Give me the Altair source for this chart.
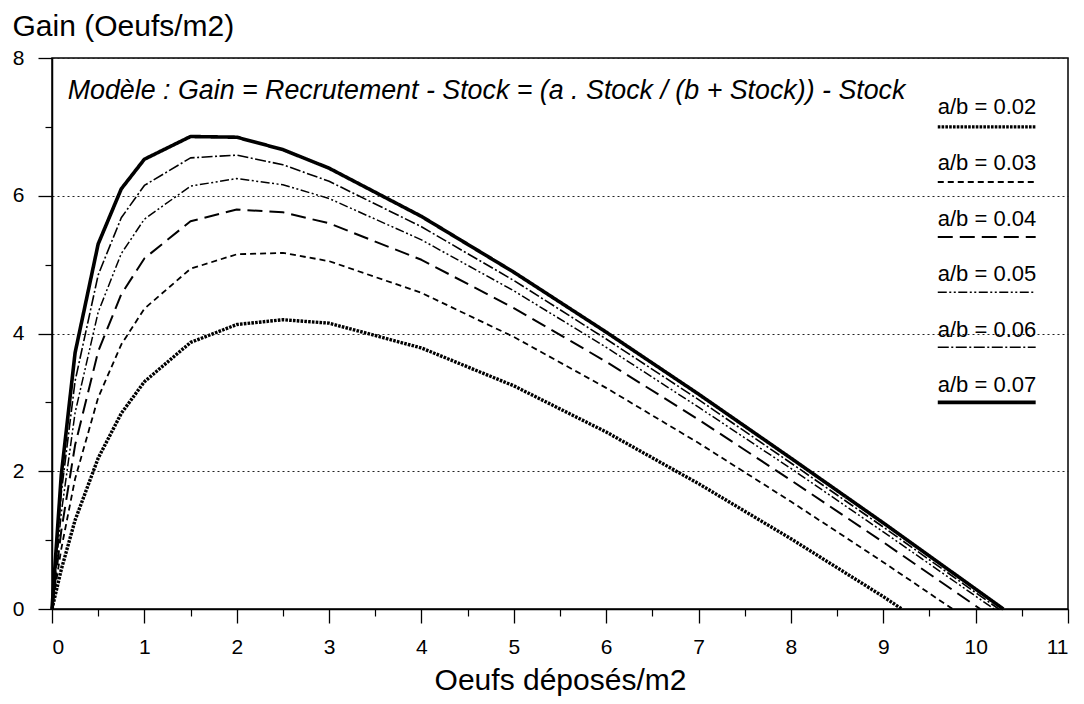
import altair as alt
import pandas as pd

# ---------------- data ----------------
series = ["a/b = 0.02", "a/b = 0.03", "a/b = 0.04", "a/b = 0.05", "a/b = 0.06", "a/b = 0.07"]

stock = [0, 0.1, 0.25, 0.5, 0.75, 1, 1.5, 2, 2.5, 3, 4, 5, 6, 7, 8, 9]

gain_002 = [0, 0.57, 1.29, 2.19, 2.84, 3.30, 3.87, 4.13, 4.20, 4.15, 3.79, 3.24, 2.57, 1.82, 1.02, 0.18]
gain_003 = [0, 0.87, 1.89, 3.07, 3.84, 4.36, 4.94, 5.15, 5.17, 5.05, 4.59, 3.95, 3.21, 2.41, 1.56, 0.68]
gain_004 = [0, 1.13, 2.38, 3.74, 4.57, 5.09, 5.63, 5.80, 5.76, 5.60, 5.07, 4.37, 3.59, 2.75, 1.87, 0.97]
gain_005 = [0, 1.39, 2.85, 4.31, 5.16, 5.66, 6.14, 6.25, 6.16, 5.96, 5.36, 4.62, 3.80, 2.93, 2.04, 1.12]
gain_006 = [0, 1.68, 3.31, 4.85, 5.68, 6.15, 6.55, 6.59, 6.45, 6.21, 5.55, 4.77, 3.92, 3.04, 2.12, 1.19]
gain_007 = [0, 1.94, 3.72, 5.30, 6.10, 6.53, 6.86, 6.85, 6.67, 6.40, 5.70, 4.89, 4.02, 3.12, 2.19, 1.25]

# stock where each curve returns to zero gain
zero_stock = [9.20, 9.75, 10.05, 10.20, 10.25, 10.30]

x_ticks = list(range(0, 12))
x_minor = [0.5, 1.5, 2.5, 3.5, 4.5, 5.5, 6.5, 7.5, 8.5, 9.5, 10.5]
y_ticks = [0, 2, 4, 6, 8]
y_minor = [1, 3, 5, 7]

model_text = "Modèle : Gain = Recrutement - Stock = (a . Stock / (b + Stock)) - Stock"
x_title = "Oeufs déposés/m2"
y_title = "Gain (Oeufs/m2)"

# ---------------- styling ----------------
dashes = [[2.6, 1.2], [6, 4], [15, 7], [9, 2.5, 2, 2.5, 2, 2.5], [11, 2.5, 2, 2.5], [1, 0]]
widths = [3.4, 1.8, 2.0, 1.5, 1.6, 3.6]
FONT = "Liberation Sans"

# ---------------- tables ----------------
gains = [gain_002, gain_003, gain_004, gain_005, gain_006, gain_007]
rows = []
for name, g, z in zip(series, gains, zero_stock):
    for i, (s, v) in enumerate(zip(stock, g)):
        rows.append({"serie": name, "stock": s, "gain": v, "order": i})
    rows.append({"serie": name, "stock": z, "gain": 0.0, "order": len(stock)})
curves = pd.DataFrame(rows)

# legend placed in the upper right of the plot (layout in data units)
leg = pd.DataFrame({
    "serie": series,
    "tx": [9.59] * len(series),
    "ty": [7.18 - 0.807 * i for i in range(len(series))],
    "lx1": [9.59] * len(series),
    "lx2": [10.65] * len(series),
    "ly": [7.0 - 0.80 * i for i in range(len(series))],
})
note = pd.DataFrame({"t": [model_text], "x": [0.17], "y": [7.40]})

xs = alt.Scale(domain=[0, 11], nice=False, zero=False)
ys = alt.Scale(domain=[0, 8], nice=False, zero=False)

major_x = alt.Axis(
    values=x_ticks, tickSize=14, tickWidth=1.3, tickColor="black", labelFontSize=21,
    labelFont=FONT, labelColor="black", labelPadding=13, domainColor="black", domainWidth=1.5,
    title=x_title, titleFont=FONT, titleFontSize=30, titleFontWeight="normal",
    titleColor="black", titleBaseline="alphabetic", titleY=80, titleX=508,
    titleAlign="center", grid=False, orient="bottom")
major_y = alt.Axis(
    values=y_ticks, tickSize=14, tickWidth=1.3, tickColor="black", labelFontSize=21,
    labelFont=FONT, labelColor="black", labelPadding=14, domainColor="black", domainWidth=1.5,
    grid=True, gridDash=[2, 3], gridColor="#222222", gridWidth=1,
    title=y_title, titleFont=FONT, titleFontSize=30, titleFontWeight="normal",
    titleColor="black", titleAngle=0, titleAlign="left", titleBaseline="alphabetic",
    titleX=-40, titleY=-23, orient="left")
minor_x = alt.Axis(
    values=x_minor, tickSize=7, tickWidth=1.2, tickColor="black", labels=False,
    domain=False, grid=False, title="", orient="bottom")
minor_y = alt.Axis(
    values=y_minor, tickSize=7, tickWidth=1.2, tickColor="black", labels=False,
    domain=False, grid=False, title="", orient="left")

layers = []
for k, name in enumerate(series):
    sub = curves[curves["serie"] == name]
    if k == 0:
        ax_x, ax_y = major_x, major_y
    elif k == 1:
        ax_x, ax_y = minor_x, minor_y
    else:
        ax_x, ax_y = None, None
    layers.append(
        alt.Chart(sub).mark_line(
            color="black", strokeCap="butt", strokeJoin="round",
            strokeDash=dashes[k], strokeWidth=widths[k]
        ).encode(
            x=alt.X("stock:Q", scale=xs, axis=ax_x),
            y=alt.Y("gain:Q", scale=ys, axis=ax_y),
            order="order:Q",
        )
    )
    row = leg[leg["serie"] == name]
    layers.append(
        alt.Chart(row).mark_rule(
            color="black", strokeCap="butt", strokeDash=dashes[k], strokeWidth=widths[k]
        ).encode(
            x=alt.X("lx1:Q", scale=xs, axis=None),
            x2="lx2:Q",
            y=alt.Y("ly:Q", scale=ys, axis=None),
        )
    )

leg_text = alt.Chart(leg).mark_text(
    align="left", baseline="alphabetic", font=FONT, fontSize=22, color="black"
).encode(
    x=alt.X("tx:Q", scale=xs, axis=None),
    y=alt.Y("ty:Q", scale=ys, axis=None),
    text="serie:N",
)

note_text = alt.Chart(note).mark_text(
    align="left", baseline="alphabetic", font=FONT, fontSize=26.8, fontStyle="italic", color="black"
).encode(
    x=alt.X("x:Q", scale=xs, axis=None),
    y=alt.Y("y:Q", scale=ys, axis=None),
    text="t:N",
)

chart = alt.layer(*layers, leg_text, note_text).resolve_axis(
    x="independent", y="independent"
).properties(
    width=1016, height=551,
    autosize=alt.AutoSizeParams(type="none"),
    padding={"left": 44, "top": 50, "right": 8, "bottom": 87},
    background="white",
).configure_view(stroke="black", strokeWidth=1.5)

chart.save("out.html", embed_options={"renderer": "svg", "actions": False})
